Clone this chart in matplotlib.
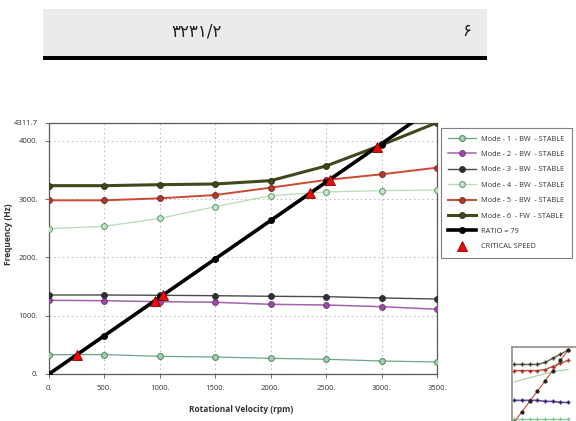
import matplotlib
matplotlib.use("Agg")
import matplotlib.pyplot as plt
from matplotlib.patches import Rectangle

plt.rcParams['font.family'] = ['Open Sans', 'DejaVu Sans']

# --- Campbell diagram data (rpm -> Hz) ---
rpm = [0, 500, 1000, 1500, 2000, 2500, 3000, 3500]
mode1 = [331, 333, 303, 291, 269, 252, 223, 206]
mode2 = [1264, 1257, 1240, 1230, 1195, 1183, 1155, 1110]
mode3 = [1355, 1355, 1350, 1343, 1333, 1326, 1304, 1286]
mode4 = [2492, 2533, 2670, 2870, 3058, 3122, 3144, 3156]
mode5 = [2979, 2979, 3013, 3070, 3196, 3328, 3425, 3539]
mode6 = [3230, 3230, 3247, 3259, 3316, 3568, 3928, 4311.7]
ratio_hz = [0, 658, 1317, 1975, 2633, 3292, 3950, 4608]

crit_rpm = [252, 952, 1026, 2357, 2532, 2963]
crit_hz = [332, 1253, 1351, 3103, 3334, 3901]

mode_labels = ["Mode - 1  - BW  - STABLE", "Mode - 2  - BW  - STABLE",
               "Mode - 3  - BW  - STABLE", "Mode - 4  - BW  - STABLE",
               "Mode - 5  - BW  - STABLE", "Mode - 6  - FW  - STABLE"]
xticks = [0, 500, 1000, 1500, 2000, 2500, 3000, 3500]
yticks = [0, 1000, 2000, 3000, 4000, 4311.7]
ytick_labels = ["0.", "1000.", "2000.", "3000.", "4000.", "4311.7"]

# small thumbnail of the neighbouring figure (own units)
th_x = [0, 1, 2, 3, 4, 5, 6, 7]
th_olive = [5.6, 5.6, 5.6, 5.6, 5.8, 6.2, 6.6, 7.0]
th_red = [5.0, 5.0, 5.0, 5.0, 5.1, 5.4, 5.7, 6.0]
th_green = [3.9, 4.1, 4.3, 4.5, 4.7, 4.9, 5.0, 5.1]
th_purple = [2.1, 2.1, 2.1, 2.1, 2.0, 2.0, 1.9, 1.9]
th_low = [0.3, 0.3, 0.3, 0.3, 0.3, 0.3, 0.3, 0.3]
th_diag = [0.0, 1.0, 2.0, 3.0, 4.0, 5.0, 6.0, 7.0]

styles = [
    dict(color='#6aa584', lw=0.9, mfc='#9fd3ad', mec='#4f7f62'),
    dict(color='#a463ad', lw=1.1, mfc='#9a4aa6', mec='#6f3d77'),
    dict(color='#4a4a4f', lw=1.0, mfc='#2e2e36', mec='#2e2e36'),
    dict(color='#b6dcb6', lw=0.9, mfc='#c4e8c4', mec='#5f8f6a'),
    dict(color='#cc4a33', lw=1.4, mfc='#b03c30', mec='#7a2a22'),
    dict(color='#3f4a1c', lw=2.2, mfc='#3f4a1c', mec='#2a3312'),
]

fig = plt.figure(figsize=(5.76, 4.21), dpi=100)

# page furniture drawn in pixel coordinates
bg = fig.add_axes([0, 0, 1, 1])
bg.set_xlim(0, 576)
bg.set_ylim(421, 0)
bg.axis('off')
bg.add_patch(Rectangle((43, 9), 444, 47, color='#ebebeb', lw=0))
bg.add_patch(Rectangle((43, 56), 444, 4, color='black', lw=0))
bg.text(197, 31, "۳۲۳۱/۲", ha='center', va='center', fontsize=12,
        family=['DejaVu Sans'], color='#222222')
bg.text(467, 31, "۶", ha='center', va='center', fontsize=12,
        family=['DejaVu Sans'], color='#222222')

ax = fig.add_axes([49 / 576, 1 - 374 / 421, 388 / 576, 251.4 / 421])
for vals, st, lab in zip([mode1, mode2, mode3, mode4, mode5, mode6], styles, mode_labels):
    ax.plot(rpm, vals, color=st['color'], lw=st['lw'], marker='o', ms=4.2,
            mfc=st['mfc'], mec=st['mec'], mew=0.7, label=lab, zorder=3)
ax.plot(rpm, ratio_hz, color='black', lw=2.6, marker='o', ms=4,
        label='RATIO = 79', zorder=4)
ax.plot(crit_rpm, crit_hz, ls='none', marker='^', ms=7.5, mfc='#e80c0c',
        mec='#8a0000', mew=0.6, label='CRITICAL SPEED', zorder=5)

ax.set_xlim(0, 3500)
ax.set_ylim(0, 4311.7)
ax.set_xticks(xticks)
ax.set_xticklabels([f"{t}." for t in xticks])
ax.set_yticks(yticks)
ax.set_yticklabels(ytick_labels)
ax.tick_params(labelsize=5.5, colors='#555555', labelcolor='#333333',
               length=3, width=0.6, pad=5)
ax.grid(True, color='#c4c4c4', ls=(0, (1.5, 2.5)), lw=0.8)
for s in ax.spines.values():
    s.set_color('#5a5a5a')
    s.set_linewidth(0.9)
ax.set_xlabel("Rotational Velocity (rpm)", fontsize=6, fontweight='bold',
              color='#333333')
ax.set_ylabel("Frequency (Hz)", fontsize=6, fontweight='bold',
              color='#333333')
ax.xaxis.set_label_coords(0.496, -0.124)
ax.yaxis.set_label_coords(-0.093, 0.557)

h, l = ax.get_legend_handles_labels()
leg = fig.legend(h, l, loc='upper left', bbox_to_anchor=(441 / 576, 1 - 128 / 421),
                 bbox_transform=fig.transFigure, fontsize=5.3, frameon=True,
                 fancybox=False, edgecolor='#808080', framealpha=1,
                 handlelength=3.7, handletextpad=0.8, labelspacing=1.12,
                 borderpad=1.0, numpoints=1, borderaxespad=0)
leg.get_frame().set_linewidth(0.8)
for t in leg.get_texts():
    t.set_color('#333333')

# clipped thumbnail in the corner
th = fig.add_axes([512 / 576, 1 - 425 / 421, 110 / 576, 78 / 421])
th.plot(th_x, th_olive, color='#556b2f', lw=1, marker='+', ms=3, mec='#333333')
th.plot(th_x, th_red, color='#c8503a', lw=1, marker='+', ms=3, mec='#a03020')
th.plot(th_x, th_green, color='#9fcf9f', lw=0.8)
th.plot(th_x, th_purple, color='#7a4ab0', lw=1.2, marker='+', ms=3, mec='#222266')
th.plot(th_x, th_low, color='#7fc89a', lw=0.8, marker='+', ms=3)
th.plot(th_x, th_diag, color='#c8503a', lw=0.8, marker='o', ms=2, mfc='#222222',
        mec='#222222')
th.set_xlim(-0.3, 14)
th.set_ylim(-0.3, 7.3)
th.set_xticks([])
th.set_yticks([])
for s in th.spines.values():
    s.set_color('#9a8a8a')
    s.set_linewidth(1.2)

fig.savefig("out.png", dpi=100)
